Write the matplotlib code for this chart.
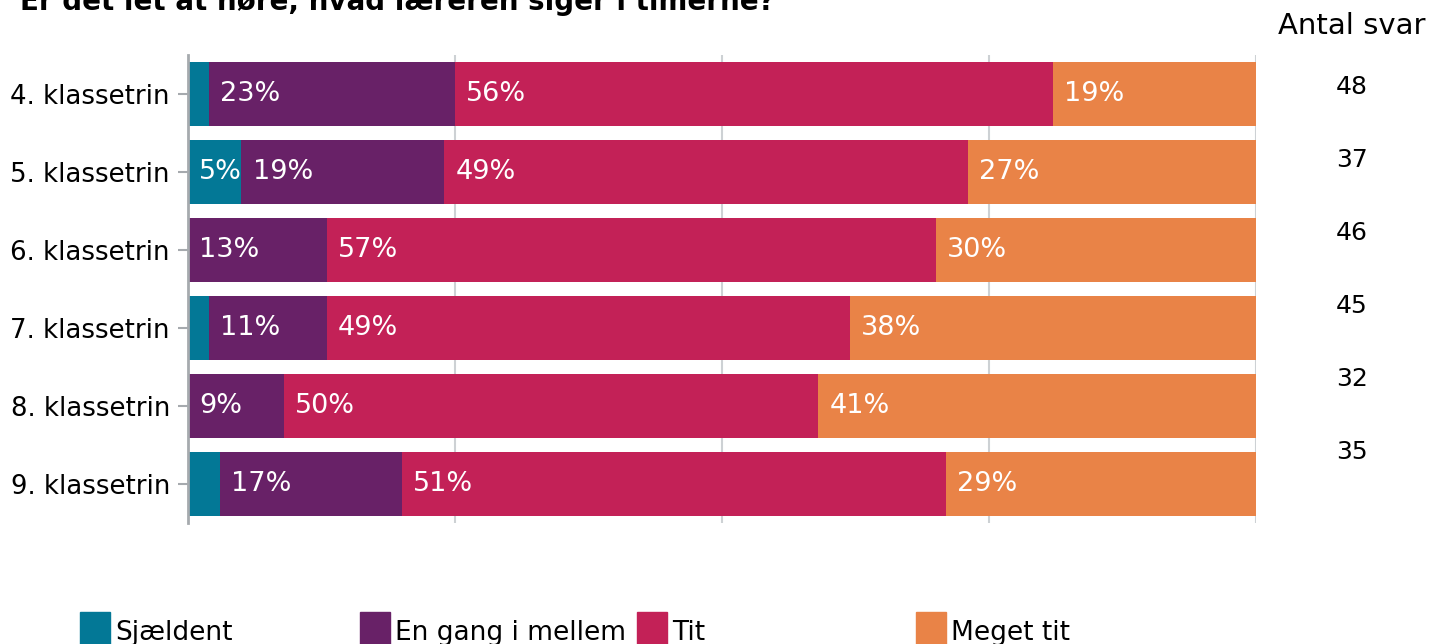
import numpy as np
import matplotlib.pyplot as plt
from matplotlib.patches import Rectangle

# Survey data: share of answers per grade (percent)
grades = ["4. klassetrin", "5. klassetrin", "6. klassetrin",
          "7. klassetrin", "8. klassetrin", "9. klassetrin"]
categories = ["Sjældent", "En gang i mellem", "Tit", "Meget tit"]
sjaeldent = [2, 5, 0, 2, 0, 3]
en_gang = [23, 19, 13, 11, 9, 17]
tit = [56, 49, 57, 49, 50, 51]
meget_tit = [19, 27, 30, 38, 41, 29]
antal_svar = [48, 37, 46, 45, 32, 35]

colors = ["#037896", "#682167", "#C32157", "#E98347"]
title = "Er det let at høre, hvad læreren siger i timerne?"

plt.rcParams["font.family"] = ["DejaVu Sans"]

fig = plt.figure(figsize=(14.29, 6.44), dpi=100)
ax = fig.add_axes([188 / 1429, 1 - 523 / 644, 1068 / 1429, 468 / 644])

series = [sjaeldent, en_gang, tit, meget_tit]
y = np.arange(len(grades))
left = np.zeros(len(grades))
for vals, color in zip(series, colors):
    vals = np.array(vals, dtype=float)
    ax.barh(y, vals, left=left, height=0.81, color=color, zorder=2)
    for yi, (l, v) in enumerate(zip(left, vals)):
        if v >= 4:
            ax.annotate(f"{v:.0f}%", xy=(l, yi), xytext=(8, 0),
                        textcoords="offset points", va="center", ha="left",
                        color="white", fontsize=19.5, zorder=3)
    left += vals

ax.set_xlim(0, 100)
ax.set_ylim(5.5, -0.5)
ax.set_yticks(y)
ax.set_yticklabels(grades, fontsize=18.7)
ax.set_xticks([25, 50, 75, 100])
ax.tick_params(axis="x", length=0, labelbottom=False)
ax.tick_params(axis="y", length=7, width=1.5, color="#A6AAAE", pad=6)
ax.grid(axis="x", color="#CDD1D4", linewidth=1.5, zorder=0)
for side in ["top", "right", "bottom"]:
    ax.spines[side].set_visible(False)
ax.spines["left"].set_color("#A6AAAE")
ax.spines["left"].set_linewidth(2)

# Title, partly above the top edge
fig.text(20 / 1429, 1 - 10 / 644, title, fontsize=20, fontweight="bold",
         va="baseline", ha="left")

# Number of answers column
fig.text(1352 / 1429, 1 - 26 / 644, "Antal svar", fontsize=21,
         ha="center", va="center")
for i, n in enumerate(antal_svar):
    fig.text(1352 / 1429, 1 - (87 + 73 * i) / 644, str(n), fontsize=18,
             ha="center", va="center")

# Legend along the bottom
legend_x = [80, 360, 637, 916]
for x0, label, color in zip(legend_x, categories, colors):
    fig.patches.append(Rectangle((x0 / 1429, 0), 30 / 1429, 32 / 644,
                                 transform=fig.transFigure, color=color))
    fig.text((x0 + 35) / 1429, 1 - 640 / 644, label, fontsize=19,
             ha="left", va="baseline")

fig.savefig("out.png", dpi=100)
